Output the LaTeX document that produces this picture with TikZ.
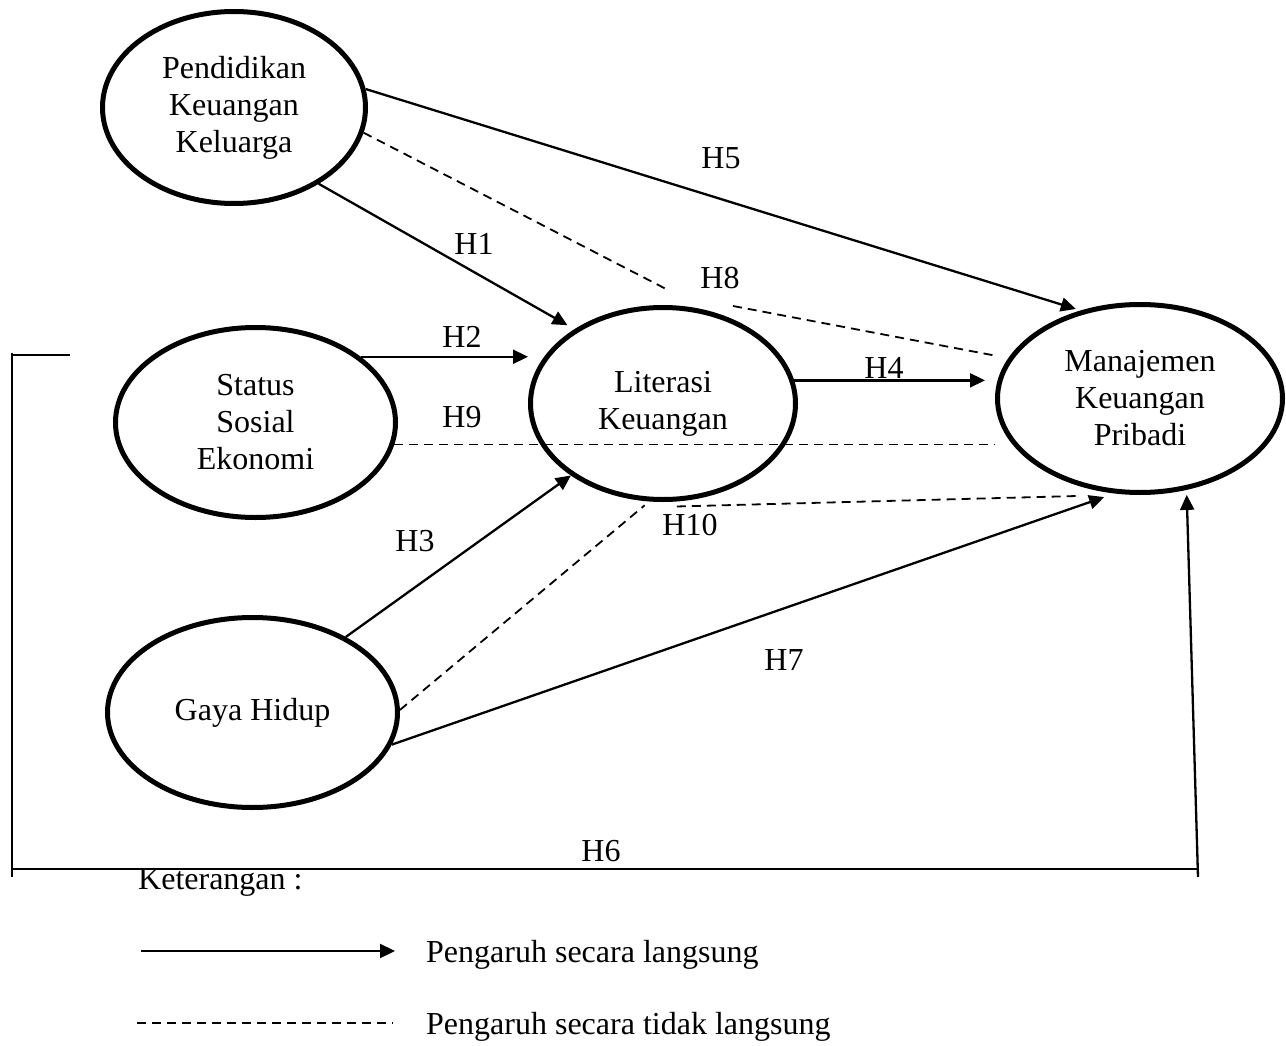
\documentclass[tikz,border=0pt]{standalone}
\usepackage{fontspec}
\setmainfont{Liberation Serif}
\usetikzlibrary{shapes.geometric,arrows.meta}
\begin{document}
\begin{tikzpicture}[x=1pt,y=-1pt,
  var/.style={ellipse,draw,line width=5pt,inner sep=0pt,align=center,
    font=\fontsize{32}{37}\selectfont},
  direct/.style={line width=2.3pt,-{Triangle[length=15pt,width=14pt]}},
  indirect/.style={line width=1.8pt,dash pattern=on 9pt off 6pt},
  plain/.style={line width=2.3pt},
  lbl/.style={font=\fontsize{32}{37}\selectfont,inner sep=0pt}]
\useasboundingbox (0,0) rectangle (1286,1046);

% variables
\node[var,minimum width=263pt,minimum height=192pt] (PKK) at (234,107.5)
  {Pendidikan\\Keuangan\\Keluarga};
\node[var,minimum width=280pt,minimum height=190pt] (SSE) at (255.5,422.5)
  {Status\\Sosial\\Ekonomi};
\node[var,minimum width=265pt,minimum height=192pt] (LK) at (663,403.5)
  {Literasi\\Keuangan};
\node[var,minimum width=285pt,minimum height=188pt] (MKP) at (1140,398.5)
  {Manajemen\\Keuangan\\Pribadi};
\node[var,minimum width=290pt,minimum height=190pt] (GH) at (252.5,712.5)
  {Gaya Hidup};

% helper points
\coordinate (h8a) at (668,290);
\coordinate (h8b) at (733,306);
\coordinate (h10e) at (1077,496);
\coordinate (h6s) at (70,355);
\coordinate (h6c) at (12,355);
\coordinate (h6d) at (12,877);
\coordinate (h6l) at (12,869);
\coordinate (h6r) at (1198,869);
\coordinate (h6u) at (1198,877);

% direct effects
\draw[direct,shorten >=5pt] (PKK.8) -- (MKP.124);
\draw[direct,shorten >=8pt] (PKK.-42) -- (LK.140);
\draw[direct] (SSE.32) -- (SSE.32 -| LK.west);
\draw[direct,shorten >=10pt] (LK.10) -- (LK.10 -| MKP.west);
\draw[direct] (GH.39) -- (LK.218);
\draw[direct,shorten >=11pt] (GH.-13) -- (MKP.255);

% indirect effects
\draw[indirect] (PKK.-11) -- (h8a) (h8b) -- ([xshift=-10pt,yshift=2pt]MKP.163);
\draw[indirect] (SSE.-9) -- (SSE.-9 -| MKP.west);
\draw[indirect,shorten >=6pt] (GH.1) -- (LK.262);
\draw[indirect] ([yshift=-5pt]LK.278) -- (h10e);

% H6 frame line
\draw[plain] (h6s) -- (h6c);
\draw[plain] ([yshift=2pt]h6c) -- (h6d);
\draw[plain] (h6l) -- (h6r);
\draw[direct,shorten >=5pt] (h6u) -- (MKP.297);

% hypothesis labels
\node[lbl] (lH5) at (721,158) {H5};
\node[lbl] (lH1) at (474,244) {H1};
\node[lbl] (lH8) at (720,278) {H8};
\node[lbl] (lH2) at (462,337) {H2};
\node[lbl] (lH4) at (884,368) {H4};
\node[lbl] (lH9) at (462,417) {H9};
\node[lbl] (lH10) at (690,525) {H10};
\node[lbl] (lH3) at (415,541) {H3};
\node[lbl] (lH7) at (784,660) {H7};
\node[lbl] (lH6) at (601,851) {H6};

% legend
\node[lbl,anchor=base west] (ket) at (138,889) {Keterangan :};
\coordinate (la) at (141,951);
\coordinate (lb) at (395,951);
\coordinate (lc) at (137,1023);
\coordinate (ld) at (393,1023);
\draw[direct] (la) -- (lb);
\draw[indirect] (lc) -- (ld);
\node[lbl,anchor=base west] (tdirect) at (426,962) {Pengaruh secara langsung};
\node[lbl,anchor=base west] (tindirect) at (426,1034) {Pengaruh secara tidak langsung};
\end{tikzpicture}
\end{document}
